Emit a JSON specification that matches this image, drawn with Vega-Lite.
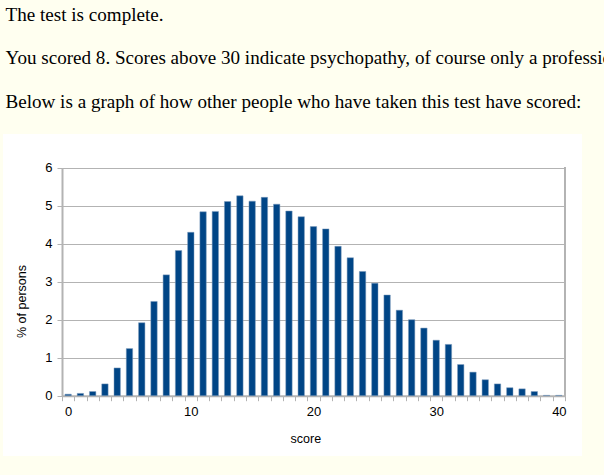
{
  "$schema": "https://vega.github.io/schema/vega-lite/v6.json",
  "width": 579,
  "height": 322,
  "autosize": {"type": "none"},
  "padding": {"left": 3, "top": 134, "right": 22, "bottom": 19},
  "background": "#FFFFF0",
  "title": {
    "text": ["The test is complete.", "You scored 8. Scores above 30 indicate psychopathy, of course only a professional", "Below is a graph of how other people who have taken this test have scored:"],
    "anchor": "start",
    "frame": "group",
    "font": "Liberation Serif",
    "fontSize": 19.1,
    "fontWeight": "normal",
    "color": "#000000",
    "lineHeight": 43.4,
    "offset": 22,
    "dx": 2.5
  },
  "config": {
    "view": {"fill": "white", "stroke": null},
    "axis": {
      "labelFont": "Liberation Sans",
      "titleFont": "Liberation Sans",
      "labelFontSize": 13,
      "titleFontSize": 12.5,
      "titleFontWeight": "normal",
      "labelColor": "#000000",
      "titleColor": "#000000",
      "domainColor": "#b3b3b3",
      "domainWidth": 2,
      "tickColor": "#b3b3b3",
      "tickWidth": 1,
      "tickSize": 5,
      "labelPadding": 5,
      "gridColor": "#b3b3b3",
      "gridWidth": 1
    }
  },
  "data": {
    "values": [
      {"score": 0, "pct": 0.04}, {"score": 1, "pct": 0.06}, {"score": 2, "pct": 0.11},
      {"score": 3, "pct": 0.31}, {"score": 4, "pct": 0.73}, {"score": 5, "pct": 1.24},
      {"score": 6, "pct": 1.92}, {"score": 7, "pct": 2.48}, {"score": 8, "pct": 3.18},
      {"score": 9, "pct": 3.82}, {"score": 10, "pct": 4.3}, {"score": 11, "pct": 4.84},
      {"score": 12, "pct": 4.85}, {"score": 13, "pct": 5.11}, {"score": 14, "pct": 5.26},
      {"score": 15, "pct": 5.12}, {"score": 16, "pct": 5.22}, {"score": 17, "pct": 5.04},
      {"score": 18, "pct": 4.86}, {"score": 19, "pct": 4.71}, {"score": 20, "pct": 4.45},
      {"score": 21, "pct": 4.39}, {"score": 22, "pct": 3.93}, {"score": 23, "pct": 3.63},
      {"score": 24, "pct": 3.27}, {"score": 25, "pct": 2.96}, {"score": 26, "pct": 2.65},
      {"score": 27, "pct": 2.25}, {"score": 28, "pct": 2.0}, {"score": 29, "pct": 1.78},
      {"score": 30, "pct": 1.46}, {"score": 31, "pct": 1.35}, {"score": 32, "pct": 0.82},
      {"score": 33, "pct": 0.62}, {"score": 34, "pct": 0.42}, {"score": 35, "pct": 0.31},
      {"score": 36, "pct": 0.21}, {"score": 37, "pct": 0.18}, {"score": 38, "pct": 0.11},
      {"score": 39, "pct": 0.01}, {"score": 40, "pct": 0.01}
    ]
  },
  "layer": [
    {
      "mark": {"type": "bar", "color": "#004586", "width": {"band": 0.52}, "stroke": "#7f9cbd", "strokeWidth": 0.5},
      "encoding": {
        "x": {
          "field": "score",
          "type": "ordinal",
          "scale": {"domain": [0,1,2,3,4,5,6,7,8,9,10,11,12,13,14,15,16,17,18,19,20,21,22,23,24,25,26,27,28,29,30,31,32,33,34,35,36,37,38,39,40], "range": [59, 562], "paddingInner": 0, "paddingOuter": 0},
          "axis": {
            "title": "score",
            "labelAngle": 0,
            "tickBand": "extent",
            "labelExpr": "datum.value % 10 === 0 ? datum.label : ''",
            "labelOverlap": false,
            "labelBound": false,
            "grid": false,
            "offset": -60.3,
            "titleX": 302.3,
            "titlePadding": 14
          }
        },
        "y": {
          "field": "pct",
          "type": "quantitative",
          "scale": {"domain": [0, 6], "range": [261.7, 33.7], "nice": false, "zero": true},
          "axis": {
            "title": "% of persons",
            "values": [0, 1, 2, 3, 4, 5, 6],
            "format": "d",
            "grid": true,
            "offset": -59,
            "titleY": 167,
            "titlePadding": 16
          }
        }
      }
    },
    {
      "mark": {"type": "rule", "color": "#b3b3b3", "strokeWidth": 1},
      "encoding": {
        "x": {"datum": 40, "type": "ordinal", "bandPosition": 1},
        "y": {"datum": 0, "type": "quantitative"},
        "y2": {"datum": 6}
      }
    }
  ]
}
